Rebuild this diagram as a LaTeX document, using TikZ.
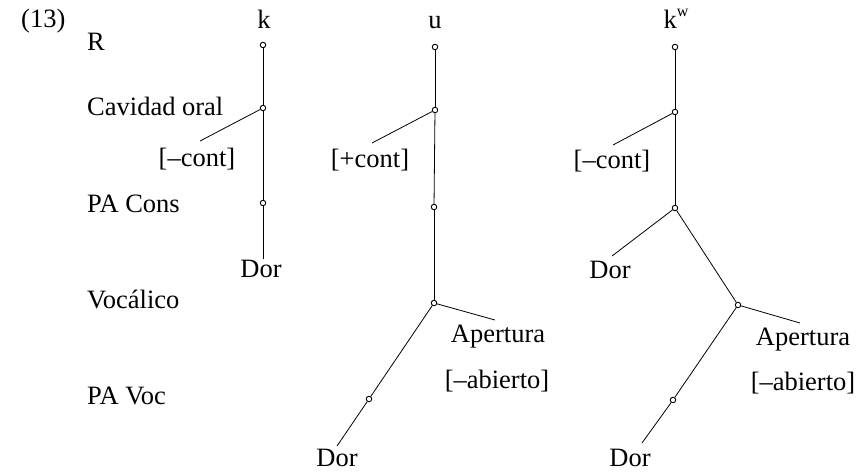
\documentclass[tikz,border=0pt]{standalone}
\usepackage{fontspec}
\setmainfont{Liberation Serif}
\begin{document}
\begin{tikzpicture}[x=1pt,y=-1pt,
  lab/.style={inner sep=0pt,anchor=base,font=\fontsize{26.5}{30}\selectfont},
  leftlab/.style={lab,anchor=base west},
  dot/.style={circle,draw,inner sep=0pt,minimum size=5.5pt,line width=0.9pt},
  br/.style={line width=0.8pt}]
\useasboundingbox (0,0) rectangle (867,474);
% row labels
\node[leftlab] (num) at (21,27) {(13)};
\node[leftlab] (rR) at (87,50) {R};
\node[leftlab] (rCav) at (87,115) {Cavidad oral};
\node[leftlab] (rPAC) at (87,212) {PA Cons};
\node[leftlab] (rVoc) at (87,308) {Vocálico};
\node[leftlab] (rPAV) at (87,404) {PA Voc};
% tree 1: k
\node[lab] (kT) at (264,28) {k};
\node[dot] (k1) at (263,45) {};
\node[dot] (k2) at (263,108) {};
\node[dot] (k3) at (263,203) {};
\node[lab] (kCont) at (197,166) {[–cont]};
\node[lab] (kDor) at (261,277) {Dor};
\coordinate (kc) at (200,141);
\draw[br] (k1) -- (k2);
\draw[br] (k2) -- (k3);
\draw[br] (k3) -- (k3 |- kDor.north);
\draw[br] (k2) -- (kc);
% tree 2: u
\node[lab] (uT) at (435,28) {u};
\node[dot] (u1) at (435,47) {};
\node[dot] (u2) at (435,110) {};
\node[dot] (u3) at (434,207) {};
\node[dot] (u4) at (434,303) {};
\node[dot] (u5) at (369,399) {};
\node[lab] (uCont) at (370,167) {[+cont]};
\node[lab] (uAp) at (498,342) {Apertura};
\node[lab] (uAb) at (497,388) {[–abierto]};
\node[lab] (uDor) at (337,466) {Dor};
\coordinate (uc) at (372,143);
\coordinate (ua) at (495,320);
\coordinate (ud) at (337,446);
\draw[br] (u1) -- (u2);
\draw[br] (u2) -- (u3);
\draw[br] (u3) -- (u4);
\draw[br] (u4) -- (u5);
\draw[br] (u5) -- (ud);
\draw[br] (u4) -- (ua);
\draw[br] (u2) -- (uc);
% tree 3: kw
\node[lab] (wT) at (676,28) {k\raisebox{0.45em}{\fontsize{16}{16}\selectfont w}};
\node[dot] (w1) at (675,47) {};
\node[dot] (w2) at (675,112) {};
\node[dot] (w3) at (675,208) {};
\node[dot] (w4) at (738,305) {};
\node[dot] (w5) at (673,400) {};
\node[lab] (wCont) at (612,168) {[–cont]};
\node[lab] (wDor1) at (610,278) {Dor};
\node[lab] (wAp) at (803,345) {Apertura};
\node[lab] (wAb) at (803,390) {[–abierto]};
\node[lab] (wDor2) at (630,466) {Dor};
\coordinate (wc) at (613,145);
\coordinate (wd1) at (612,256);
\coordinate (wa) at (800,323);
\coordinate (wd2) at (642,443);
\draw[br] (w1) -- (w2);
\draw[br] (w2) -- (w3);
\draw[br] (w3) -- (w4);
\draw[br] (w4) -- (w5);
\draw[br] (w2) -- (wc);
\draw[br] (w3) -- (wd1);
\draw[br] (w4) -- (wa);
\draw[br] (w5) -- (wd2);
\end{tikzpicture}
\end{document}
